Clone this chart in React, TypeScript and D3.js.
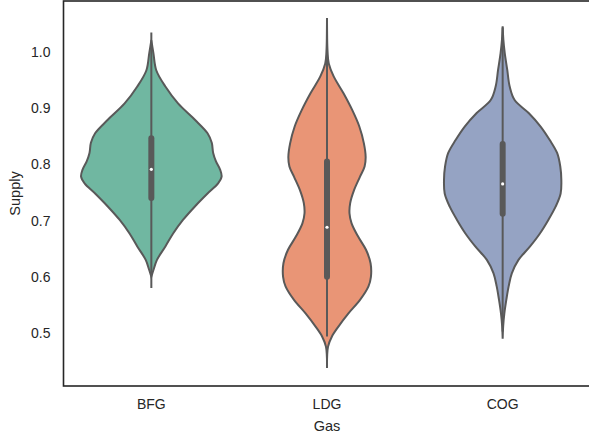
import React from 'react';
import * as d3 from 'd3';

// Gas categories and fill colours (seaborn Set2, desaturated 0.75)
const gases = ['BFG', 'LDG', 'COG'];
const colors = ['#70b7a1', '#e99576', '#95a3c3'];

// Violin outline: [supply, relative density]
const bfgDensity = [
  [0.600, 0], [0.612, 0.03], [0.630, 0.08], [0.654, 0.20], [0.677, 0.31], [0.701, 0.45],
  [0.725, 0.62], [0.748, 0.80], [0.766, 0.95], [0.778, 1.0], [0.790, 0.98], [0.805, 0.92],
  [0.820, 0.88], [0.838, 0.86], [0.855, 0.80], [0.879, 0.62], [0.908, 0.38], [0.938, 0.20],
  [0.967, 0.07], [0.997, 0.03], [1.02, 0],
];
const ldgDensity = [
  [0.438, 0], [0.476, 0.015], [0.494, 0.07], [0.512, 0.165], [0.535, 0.305], [0.559, 0.47],
  [0.583, 0.59], [0.600, 0.625], [0.624, 0.62], [0.648, 0.555], [0.671, 0.445], [0.695, 0.35],
  [0.713, 0.32], [0.731, 0.33], [0.754, 0.385], [0.778, 0.47], [0.796, 0.535], [0.813, 0.55],
  [0.837, 0.525], [0.867, 0.46], [0.896, 0.36], [0.926, 0.235], [0.956, 0.095], [0.979, 0.025],
  [1.00, 0.008], [1.06, 0],
];
const cogDensity = [
  [0.49, 0], [0.512, 0.007], [0.535, 0.024], [0.559, 0.052], [0.583, 0.085], [0.606, 0.13],
  [0.630, 0.225], [0.654, 0.39], [0.677, 0.53], [0.701, 0.65], [0.725, 0.755], [0.748, 0.825],
  [0.772, 0.835], [0.796, 0.82], [0.820, 0.775], [0.843, 0.67], [0.867, 0.54], [0.891, 0.37],
  [0.914, 0.17], [0.938, 0.10], [0.968, 0.065], [0.997, 0.03], [1.021, 0.01], [1.045, 0],
];
const densities = [bfgDensity, ldgDensity, cogDensity];

// inner box stats: [whisker low, q1, median, q3, whisker high]
const boxStats = [
  [0.580, 0.740, 0.791, 0.846, 1.034],
  [0.494, 0.600, 0.688, 0.805, 1.058],
  [0.503, 0.712, 0.765, 0.836, 1.043],
];

const yTicks = [0.5, 0.6, 0.7, 0.8, 0.9, 1.0];

const width = 589;
const height = 438;
const margin = { top: 1, right: -1.5, bottom: 52, left: 63.5 };
const gray = '#595959';
const ink = '#262626';
const font = '"Liberation Sans", Arial, sans-serif';

export default function App() {
  const ref = React.useRef<SVGSVGElement>(null);

  React.useEffect(() => {
    const svg = d3.select(ref.current);
    svg.selectAll('*').remove();

    const x = d3.scaleBand()
      .domain(gases)
      .range([margin.left, width - margin.right]);
    const y = d3.scaleLinear()
      .domain([0.406, 1.09])
      .range([height - margin.bottom, margin.top]);
    const w = d3.scaleLinear()
      .domain([0, 1])
      .range([0, x.bandwidth() * 0.4]);

    // violins
    const violins = svg.append('g')
      .selectAll('g')
      .data(gases)
      .join('g')
      .attr('transform', d => `translate(${x(d)! + x.bandwidth() / 2},0)`);

    violins.append('path')
      .attr('d', (_, i) => d3.area<number[]>()
        .y(d => y(d[0]))
        .x0(d => -w(d[1]))
        .x1(d => w(d[1]))
        .curve(d3.curveCatmullRom)(densities[i]))
      .attr('fill', (_, i) => colors[i])
      .attr('stroke', gray)
      .attr('stroke-width', 2);

    // whiskers
    violins.append('line')
      .attr('y1', (_, i) => y(boxStats[i][0]))
      .attr('y2', (_, i) => y(boxStats[i][4]))
      .attr('stroke', gray)
      .attr('stroke-width', 2);

    // box
    violins.append('line')
      .attr('y1', (_, i) => y(boxStats[i][1]))
      .attr('y2', (_, i) => y(boxStats[i][3]))
      .attr('stroke', gray)
      .attr('stroke-width', 6)
      .attr('stroke-linecap', 'round');

    // median
    violins.append('circle')
      .attr('cy', (_, i) => y(boxStats[i][2]))
      .attr('r', 1.6)
      .attr('fill', 'white');

    // y axis labels (no tick marks)
    svg.append('g')
      .attr('transform', `translate(${margin.left},0)`)
      .call(d3.axisLeft(y).tickValues(yTicks).tickFormat(d3.format('.1f')).tickSize(0).tickPadding(13))
      .call(g => g.select('.domain').remove())
      .call(g => g.selectAll('text').attr('font-family', font).attr('font-size', 14).attr('fill', ink));

    // x axis labels
    svg.append('g')
      .attr('transform', `translate(0,${height - margin.bottom})`)
      .call(d3.axisBottom(x).tickSize(0).tickPadding(13))
      .call(g => g.select('.domain').remove())
      .call(g => g.selectAll('text').attr('font-family', font).attr('font-size', 14).attr('fill', ink));

    // frame
    svg.append('rect')
      .attr('x', margin.left)
      .attr('y', margin.top)
      .attr('width', width - margin.right - margin.left)
      .attr('height', height - margin.bottom - margin.top)
      .attr('fill', 'none')
      .attr('stroke', ink)
      .attr('stroke-width', 1.6);

    svg.append('text')
      .attr('x', x('LDG')! + x.bandwidth() / 2)
      .attr('y', 431)
      .attr('text-anchor', 'middle')
      .attr('font-family', font)
      .attr('font-size', 14.5)
      .attr('fill', ink)
      .text('Gas');

    svg.append('text')
      .attr('transform', `translate(19.5,${(margin.top + height - margin.bottom) / 2}) rotate(-90)`)
      .attr('text-anchor', 'middle')
      .attr('font-family', font)
      .attr('font-size', 14.5)
      .attr('fill', ink)
      .text('Supply');
  }, []);

  return (
    <svg ref={ref} width={width} height={height}
      style={{ position: 'absolute', left: 0, top: 0, background: 'white' }} />
  );
}
